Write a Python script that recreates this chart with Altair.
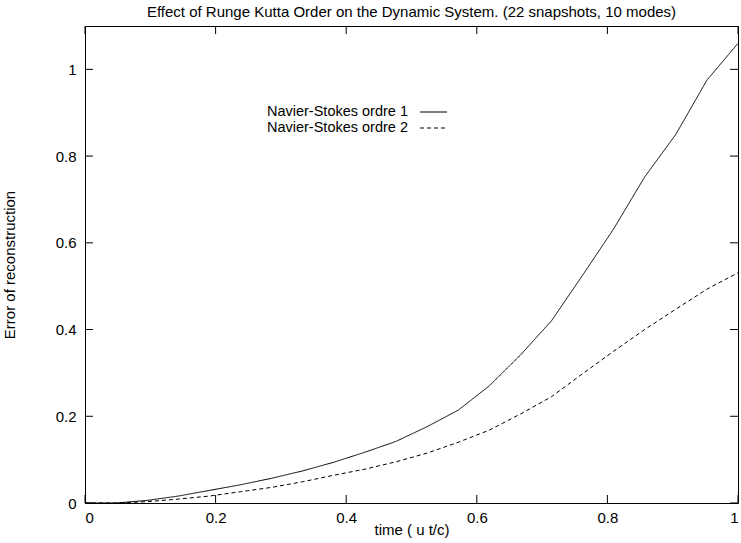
import altair as alt
import pandas as pd

# 22 snapshots, evenly spaced in non-dimensional time
time = [k / 21 for k in range(22)]

order1 = [0.0, 0.0, 0.006, 0.016, 0.029, 0.042, 0.057, 0.074, 0.094, 0.117, 0.142,
          0.176, 0.214, 0.270, 0.341, 0.420, 0.525, 0.632, 0.752, 0.850, 0.975, 1.060]
order2 = [0.0, 0.0, 0.003, 0.009, 0.016, 0.026, 0.036, 0.049, 0.064, 0.078, 0.095,
          0.115, 0.140, 0.168, 0.205, 0.245, 0.298, 0.350, 0.400, 0.447, 0.493, 0.531]

series_names = ["Navier-Stokes ordre 1", "Navier-Stokes ordre 2"]
x_ticks = [0, 0.2, 0.4, 0.6, 0.8, 1.0]
y_ticks = [0, 0.2, 0.4, 0.6, 0.8, 1.0]

W, H = 653, 477
FONT = "Liberation Sans"

rows = []
for t, a, b in zip(time, order1, order2):
    rows.append({"t": t, "err": a, "series": series_names[0]})
    rows.append({"t": t, "err": b, "series": series_names[1]})
df = pd.DataFrame(rows)

x_scale = alt.Scale(domain=[0, 1], nice=False, zero=False)
y_scale = alt.Scale(domain=[0, 1.1], nice=False)
dash_scale = alt.Scale(domain=series_names, range=[[1, 0], [4, 3]])

lines = alt.Chart(df).mark_line(color="black", strokeWidth=1).encode(
    x=alt.X("t:Q", scale=x_scale,
            axis=alt.Axis(values=x_ticks, title="time ( u t/c)", format="~g",
                          ticks=False, tickSize=0, domain=False, grid=False,
                          labelPadding=7, labelFontSize=15, labelFont=FONT,
                          labelColor="black", titleFont=FONT, titleFontSize=15,
                          titleFontWeight="normal", titleColor="black",
                          titlePadding=-3)),
    y=alt.Y("err:Q", scale=y_scale,
            axis=alt.Axis(values=y_ticks, title="Error of reconstruction",
                          format="~g", ticks=False, tickSize=0, domain=False,
                          grid=False, labelPadding=9, labelFontSize=15,
                          labelFont=FONT, labelColor="black", titleFont=FONT,
                          titleFontSize=15, titleFontWeight="normal",
                          titleColor="black", titlePadding=38)),
    strokeDash=alt.StrokeDash("series:N", scale=dash_scale, legend=None),
    detail="series:N",
)

# inward tick marks on all four sides, drawn as short rules
tick_df = pd.DataFrame({"v": x_ticks})
tick_style = dict(color="black", strokeWidth=1, opacity=1)
bottom_ticks = alt.Chart(tick_df).mark_rule(**tick_style).encode(
    x=alt.X("v:Q", scale=x_scale), y=alt.value(H - 8), y2=alt.value(H))
top_ticks = alt.Chart(tick_df).mark_rule(**tick_style).encode(
    x=alt.X("v:Q", scale=x_scale), y=alt.value(0), y2=alt.value(8))
ytick_df = pd.DataFrame({"w": y_ticks})
left_ticks = alt.Chart(ytick_df).mark_rule(**tick_style).encode(
    y=alt.Y("w:Q", scale=y_scale), x=alt.value(0), x2=alt.value(8))
right_ticks = alt.Chart(ytick_df).mark_rule(**tick_style).encode(
    y=alt.Y("w:Q", scale=y_scale), x=alt.value(W - 8), x2=alt.value(W))

# key: label on the left, line sample on the right, one row per series
key_layers = []
for i, name in enumerate(series_names):
    row = pd.DataFrame({"series": [name]})
    ky = 86 + 16 * i
    key_layers.append(alt.Chart(row).mark_text(
        align="right", baseline="middle", font=FONT, fontSize=14.5,
        color="black").encode(text="series:N", x=alt.value(323), y=alt.value(ky)))
    key_layers.append(alt.Chart(row).mark_rule(color="black", strokeWidth=1).encode(
        x=alt.value(335), x2=alt.value(362), y=alt.value(ky),
        strokeDash=alt.StrokeDash("series:N", scale=dash_scale, legend=None)))

chart = alt.layer(lines, bottom_ticks, top_ticks, left_ticks, right_ticks,
                  *key_layers).properties(
    width=W, height=H,
    title=alt.TitleParams(
        "Effect of Runge Kutta Order on the Dynamic System. (22 snapshots, 10 modes)",
        anchor="middle", offset=6, font=FONT, fontSize=15,
        fontWeight="normal", color="black"),
    autosize=alt.AutoSizeParams(type="none"),
    padding={"left": 85, "top": 26, "right": 3, "bottom": 40},
    background="white",
).configure_view(stroke="black", strokeWidth=1)

chart.save("out.html", embed_options={"renderer": "svg", "actions": False})
